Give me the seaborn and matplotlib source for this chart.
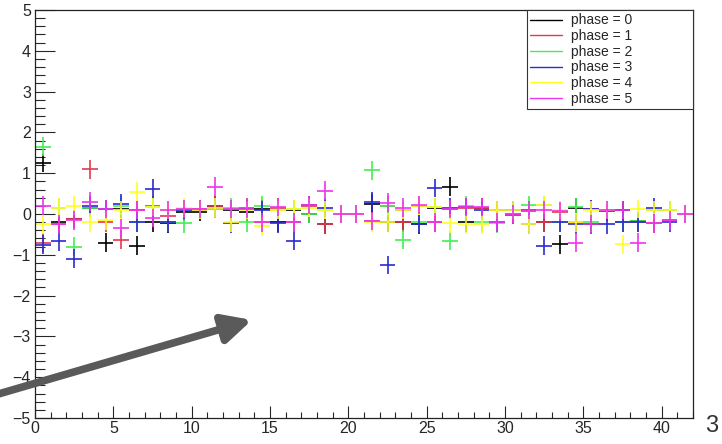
import numpy as np
import pandas as pd
import matplotlib
matplotlib.use('Agg')
import matplotlib.pyplot as plt
from matplotlib.lines import Line2D
from matplotlib.ticker import MultipleLocator
import seaborn as sns

# bin values, one list per phase (42 bins of width 1)
phase0 = [1.25, -0.2, -0.12, 0.15, -0.7, 0.12, -0.78, -0.2, -0.23, 0.05, 0.05, 0.2, 0.1, 0.05,
          0.12, -0.2, 0.1, 0.0, -0.25, 0.0, 0.0, 0.25, -0.2, -0.2, -0.25, 0.15, 0.67, -0.2,
          0.15, 0.1, -0.02, 0.1, -0.2, -0.74, 0.15, -0.25, 0.07, 0.1, -0.17, 0.1, 0.1, 0.0]
phase1 = [-0.7, -0.25, -0.12, 1.1, -0.2, -0.63, 0.1, 0.2, -0.05, 0.12, 0.12, 0.2, 0.12, 0.15,
          -0.2, 0.15, -0.2, 0.2, -0.25, 0.0, 0.0, -0.17, 0.2, -0.2, 0.2, -0.2, 0.12, 0.15,
          0.15, 0.1, 0.0, 0.07, -0.2, 0.05, -0.2, 0.12, 0.07, -0.2, -0.2, -0.23, -0.15, 0.0]
phase2 = [1.65, 0.15, -0.8, 0.15, 0.12, 0.2, -0.2, 0.17, -0.2, -0.23, 0.1, 0.12, 0.15, -0.2,
          0.2, 0.1, 0.12, 0.0, 0.1, 0.0, 0.0, 1.07, 0.2, -0.63, -0.2, 0.17, -0.65, 0.2,
          -0.2, -0.23, 0.1, 0.22, 0.22, -0.2, 0.17, -0.2, 0.1, -0.2, -0.17, 0.1, 0.1, 0.0]
phase3 = [-0.75, -0.67, -1.1, 0.2, 0.12, 0.25, -0.2, 0.62, -0.2, 0.1, 0.1, 0.15, -0.23, 0.12,
          0.1, -0.23, -0.65, 0.22, 0.15, 0.0, 0.0, 0.3, -1.25, 0.1, -0.25, 0.64, 0.15, 0.17,
          0.1, -0.2, 0.1, -0.25, -0.78, -0.2, -0.25, 0.12, -0.25, -0.2, -0.2, 0.15, -0.2, 0.0]
phase4 = [-0.25, 0.15, 0.2, -0.2, -0.15, 0.1, 0.55, 0.17, 0.1, 0.15, 0.1, 0.15, -0.2, 0.1,
          -0.3, 0.1, 0.12, 0.15, 0.1, 0.0, 0.0, -0.2, -0.2, 0.1, 0.2, 0.17, -0.23, -0.25,
          -0.25, 0.1, 0.1, -0.25, 0.22, 0.1, -0.2, 0.1, 0.1, -0.74, 0.12, 0.1, 0.1, 0.0]
phase5 = [0.2, -0.25, -0.15, 0.3, 0.12, -0.35, 0.1, -0.1, 0.1, 0.12, 0.12, 0.67, 0.12, 0.12,
          -0.2, 0.17, -0.2, 0.22, 0.57, 0.0, 0.0, -0.17, 0.28, 0.15, 0.22, -0.2, 0.12, 0.17,
          0.17, -0.2, -0.02, 0.1, 0.1, 0.07, -0.7, -0.25, 0.1, 0.1, -0.7, -0.23, -0.15, 0.0]
bin_error = 0.23
phases = [phase0, phase1, phase2, phase3, phase4, phase5]
phase_names = ['phase = %d' % i for i in range(6)]

rows = []
for i, vals in enumerate(phases):
    for b, v in enumerate(vals):
        rows.append({'bin': b + 0.5, 'value': v, 'phase': phase_names[i]})
df = pd.DataFrame(rows)

sns.set_style('ticks')
plt.rcParams['font.family'] = ['Liberation Sans Narrow', 'Liberation Sans', 'DejaVu Sans']
plt.rcParams['axes.unicode_minus'] = True
colors = sns.color_palette(['#000000', '#e03a50', '#44ee55', '#2a2ad0', '#ffff22', '#ee33ee'])

fig = plt.figure(figsize=(7.22, 4.44), dpi=100)
ax = fig.add_axes([35 / 722, 1 - 418 / 444, 658 / 722, 408 / 444])

for i, name in enumerate(phase_names):
    sub = df[df['phase'] == name]
    ax.errorbar(sub['bin'], sub['value'], xerr=0.5, yerr=bin_error, fmt='none',
                ecolor=colors[i], elinewidth=1.2, capsize=0)

ax.set_xlim(0, 42)
ax.set_ylim(-5, 5)
ax.xaxis.set_major_locator(MultipleLocator(5))
ax.xaxis.set_minor_locator(MultipleLocator(1))
ax.yaxis.set_major_locator(MultipleLocator(1))
ax.yaxis.set_minor_locator(MultipleLocator(0.2))
ax.tick_params(axis='x', which='major', direction='in', length=8.6, width=0.8,
               labelsize=11.5, pad=2, top=False)
ax.tick_params(axis='x', which='minor', direction='in', length=4.3, width=0.8, top=False)
ax.tick_params(axis='y', which='major', direction='in', length=14.4, width=0.8,
               labelsize=11.5, pad=3, right=False)
ax.tick_params(axis='y', which='minor', direction='in', length=7.2, width=0.8, right=False)
for s in ax.spines.values():
    s.set_color('#222222')
    s.set_linewidth(0.9)

handles = [Line2D([0], [0], color=colors[i], lw=1.0) for i in range(6)]
leg_w = 166 / 658
leg_h = 93 / 408
leg = ax.legend(handles, phase_names, loc='upper left',
                bbox_to_anchor=(1 - leg_w, 1 - leg_h, leg_w, leg_h), mode='expand',
                prop={'family': ['Liberation Sans', 'DejaVu Sans'], 'size': 10},
                frameon=True, fancybox=False, borderaxespad=0,
                handlelength=2.3, labelspacing=0.12, borderpad=0.25, handletextpad=0.6)
leg.get_frame().set_edgecolor('#333333')
leg.get_frame().set_linewidth(0.8)
leg.get_frame().set_alpha(1)

fig.text(705 / 722, 1 - 432 / 444, '3', fontsize=17, color='#333333')

# big grey arrow drawn over the plot
ax.annotate('', xy=(252 / 722, 1 - 320 / 444), xycoords='figure fraction',
            xytext=(-5 / 722, 1 - 395 / 444), textcoords='figure fraction',
            arrowprops=dict(arrowstyle='-|>,head_length=1.7,head_width=0.85',
                            color='#5a5a5a', lw=5.5, shrinkA=0, shrinkB=0),
            annotation_clip=False)

fig.savefig('out.png', dpi=100)
